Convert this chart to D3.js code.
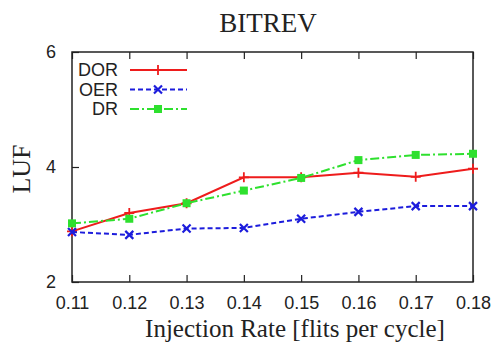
<!DOCTYPE html>
<html>
<head>
<meta charset="utf-8">
<script src="https://cdn.jsdelivr.net/npm/d3@7"></script>
<style>
  body { margin: 0; background: #fff; }
</style>
</head>
<body>
<div id="chart"></div>
<script>
const rates = [0.11, 0.12, 0.13, 0.14, 0.15, 0.16, 0.17, 0.18];
const dor = [2.88, 3.20, 3.37, 3.82, 3.82, 3.90, 3.83, 3.97];
const oer = [2.87, 2.82, 2.93, 2.94, 3.10, 3.22, 3.32, 3.32];
const dr = [3.02, 3.10, 3.37, 3.59, 3.81, 4.12, 4.21, 4.23];
const yTicks = [2, 4, 6];

const width = 497, height = 344;
const margin = { top: 52, right: 24, bottom: 62, left: 72 };

const svg = d3.select("#chart")
  .append("svg")
  .attr("width", width)
  .attr("height", height);

const x = d3.scaleLinear()
  .domain([0.11, 0.18])
  .range([margin.left, width - margin.right]);

const y = d3.scaleLinear()
  .domain([2, 6])
  .range([height - margin.bottom, margin.top]);

const sans = "'Liberation Sans', Arial, sans-serif";
const serif = "'Liberation Serif', 'Times New Roman', serif";

// inward ticks top and bottom
const tickLen = 7;
svg.append("g")
  .attr("transform", `translate(0,${height - margin.bottom})`)
  .call(d3.axisBottom(x).tickValues(rates).tickSize(-tickLen).tickPadding(tickLen + 7).tickFormat(d3.format(".2f")))
  .call(g => g.select(".domain").remove())
  .call(g => g.selectAll("text").attr("font-family", sans).attr("font-size", 18).attr("fill", "#222"));

svg.append("g")
  .attr("transform", `translate(0,${margin.top})`)
  .call(d3.axisTop(x).tickValues(rates).tickSize(-tickLen).tickFormat(""))
  .call(g => g.select(".domain").remove());

svg.append("g")
  .attr("transform", `translate(${margin.left},0)`)
  .call(d3.axisLeft(y).tickValues(yTicks).tickSize(-tickLen).tickPadding(tickLen + 9).tickFormat(d3.format("d")))
  .call(g => g.select(".domain").remove())
  .call(g => g.selectAll("text").attr("font-family", sans).attr("font-size", 18).attr("fill", "#222"));

svg.selectAll(".tick line").attr("stroke", "#222").attr("stroke-width", 1.2);

// frame
svg.append("rect")
  .attr("x", margin.left)
  .attr("y", margin.top)
  .attr("width", width - margin.left - margin.right)
  .attr("height", height - margin.top - margin.bottom)
  .attr("fill", "none")
  .attr("stroke", "#222")
  .attr("stroke-width", 1.5);

const series = [
  { name: "DOR", values: dor, color: "#ee1c1c", dash: null, marker: "plus" },
  { name: "OER", values: oer, color: "#1c1cdc", dash: "5,3", marker: "cross" },
  { name: "DR", values: dr, color: "#2ee02e", dash: "9,3,2,3", marker: "square" }
];

const line = d3.line()
  .x(d => x(d[0]))
  .y(d => y(d[1]));

function drawMarker(g, type, color) {
  if (type === "plus") {
    g.append("path").attr("d", "M-5,0H5M0,-5V5").attr("stroke", color).attr("stroke-width", 1.8);
  } else if (type === "cross") {
    g.append("path").attr("d", "M-4,-4L4,4M-4,4L4,-4").attr("stroke", color).attr("stroke-width", 2.2);
  } else {
    g.append("rect").attr("x", -4).attr("y", -4).attr("width", 8).attr("height", 8).attr("fill", color);
  }
}

series.forEach(s => {
  const pts = rates.map((r, i) => [r, s.values[i]]);
  svg.append("path")
    .datum(pts)
    .attr("d", line)
    .attr("fill", "none")
    .attr("stroke", s.color)
    .attr("stroke-width", 2)
    .attr("stroke-dasharray", s.dash);
  pts.forEach(p => {
    const g = svg.append("g").attr("transform", `translate(${x(p[0])},${y(p[1])})`);
    drawMarker(g, s.marker, s.color);
  });
});

// legend
const legend = svg.append("g");
series.forEach((s, i) => {
  const ly = 70 + i * 19.5;
  legend.append("text")
    .attr("x", 118)
    .attr("y", ly)
    .attr("dy", "0.36em")
    .attr("text-anchor", "end")
    .attr("font-family", sans)
    .attr("font-size", 18)
    .attr("fill", "#222")
    .text(s.name);
  legend.append("line")
    .attr("x1", 130).attr("x2", 187)
    .attr("y1", ly).attr("y2", ly)
    .attr("stroke", s.color)
    .attr("stroke-width", 2)
    .attr("stroke-dasharray", s.dash);
  const g = legend.append("g").attr("transform", `translate(158,${ly})`);
  drawMarker(g, s.marker, s.color);
});

// title and axis labels
svg.append("text")
  .attr("x", 268)
  .attr("y", 32)
  .attr("text-anchor", "middle")
  .attr("font-family", serif)
  .attr("font-size", 27)
  .attr("fill", "#222")
  .text("BITREV");

svg.append("text")
  .attr("x", 295)
  .attr("y", 337)
  .attr("text-anchor", "middle")
  .attr("font-family", serif)
  .attr("font-size", 25)
  .attr("fill", "#222")
  .text("Injection Rate [flits per cycle]");

svg.append("text")
  .attr("transform", "translate(30,169) rotate(-90)")
  .attr("text-anchor", "middle")
  .attr("font-family", serif)
  .attr("font-size", 26)
  .attr("fill", "#222")
  .text("LUF");
</script>
</body>
</html>
